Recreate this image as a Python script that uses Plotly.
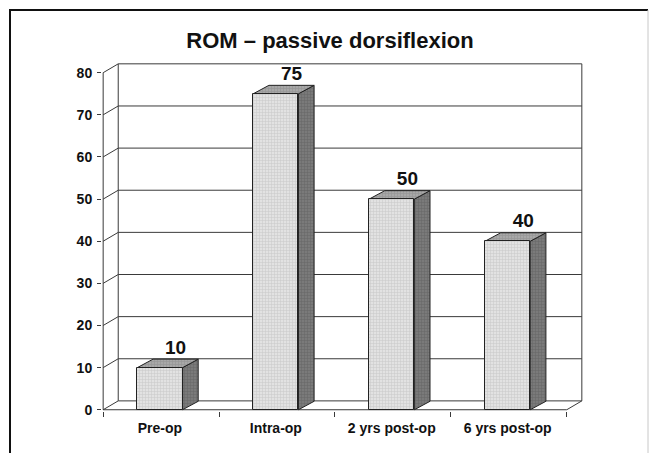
import plotly.graph_objects as go

# ---- data ----
categories = ["Pre-op", "Intra-op", "2 yrs post-op", "6 yrs post-op"]
values = [10, 75, 50, 40]
y_ticks = [0, 10, 20, 30, 40, 50, 60, 70, 80]
title_text = "ROM – passive dorsiflexion"

# ---- geometry (in axis units) ----
W = 653
H = 453
ML, MR, MT, MB = 102, 70, 63, 42
X_RANGE = [-0.01, 4.14]
Y_RANGE = [-0.3, 82.3]
WALL_DX, WALL_DY = 0.13, 2.1      # depth of chart walls
BAR_DX, BAR_DY = 0.135, 2.0       # depth of bars
BAR_OFF, BAR_HALF = 0.49, 0.195   # front-face centre offset and half width
YMAX = 80
NCAT = len(categories)

LINE = "#3a3a3a"
FONT = "Liberation Sans, Arial, sans-serif"

fig = go.Figure()

# walls and gridlines
gx, gy = [], []
for v in y_ticks:
    gx += [0, WALL_DX, NCAT + WALL_DX, None]
    gy += [v, v + WALL_DY, v + WALL_DY, None]
# left wall edges
gx += [0, 0, None, WALL_DX, WALL_DX, None]
gy += [0, YMAX, None, WALL_DY, YMAX + WALL_DY, None]
# back wall right edge
gx += [NCAT + WALL_DX, NCAT + WALL_DX, None]
gy += [WALL_DY, YMAX + WALL_DY, None]
# floor front + right edge
gx += [0, NCAT, NCAT + WALL_DX, None]
gy += [0, 0, WALL_DY, None]
fig.add_trace(go.Scatter(x=gx, y=gy, mode="lines",
                         line=dict(color=LINE, width=1),
                         hoverinfo="skip", showlegend=False))

# side faces and top faces of bars
sx, sy, tx, ty = [], [], [], []
for i, v in enumerate(values):
    c = i + BAR_OFF
    l, r = c - BAR_HALF, c + BAR_HALF
    sx += [r, r + BAR_DX, r + BAR_DX, r, r, None]
    sy += [0, BAR_DY, v + BAR_DY, v, 0, None]
    tx += [l, r, r + BAR_DX, l + BAR_DX, l, None]
    ty += [v, v, v + BAR_DY, v + BAR_DY, v, None]

fig.add_trace(go.Scatter(x=sx, y=sy, mode="lines", fill="toself",
                         fillcolor="#707070",
                         fillpattern=dict(shape="+", size=3, solidity=0.35,
                                          bgcolor="#7a7a7a", fgcolor="#555555"),
                         line=dict(color="#222222", width=1),
                         hoverinfo="skip", showlegend=False))
fig.add_trace(go.Scatter(x=tx, y=ty, mode="lines", fill="toself",
                         fillcolor="#a0a0a0",
                         fillpattern=dict(shape="+", size=3, solidity=0.35,
                                          bgcolor="#a8a8a8", fgcolor="#808080"),
                         line=dict(color="#222222", width=1),
                         hoverinfo="skip", showlegend=False))

# value labels
fig.add_trace(go.Scatter(
    x=[i + BAR_OFF + BAR_DX for i in range(NCAT)],
    y=[v + BAR_DY + 2.4 for v in values],
    text=[str(v) for v in values], mode="text",
    textposition="middle center",
    textfont=dict(family=FONT, size=19, color="#111111", weight="bold"),
    cliponaxis=False, hoverinfo="skip", showlegend=False))

# front faces (real bars)
fig.add_trace(go.Bar(
    x=[i + BAR_OFF for i in range(NCAT)], y=values, width=2 * BAR_HALF,
    xaxis="x2",
    marker=dict(color="#e0e0e0",
                line=dict(color="#222222", width=1),
                pattern=dict(shape="+", size=3, solidity=0.3,
                             bgcolor="#e2e2e2", fgcolor="#adadad")),
    hoverinfo="skip", showlegend=False))


def px_x(p):
    return (p - ML) / (W - ML - MR)


def px_y(p):
    return (H - MB - p) / (H - MT - MB)


shapes = [
    dict(type="line", xref="paper", yref="paper",
         x0=px_x(10), x1=px_x(10), y0=px_y(9), y1=px_y(460),
         line=dict(color="#111111", width=2)),
    dict(type="line", xref="paper", yref="paper",
         x0=px_x(9), x1=px_x(648), y0=px_y(10), y1=px_y(10),
         line=dict(color="#111111", width=2)),
    dict(type="line", xref="paper", yref="paper",
         x0=px_x(648), x1=px_x(648), y0=px_y(10), y1=px_y(460),
         line=dict(color="#c8c8c8", width=1)),
]

fig.update_layout(
    width=W, height=H,
    margin=dict(l=ML, r=MR, t=MT, b=MB, pad=0),
    paper_bgcolor="white", plot_bgcolor="white",
    title=dict(text=title_text, xref="container", yref="container",
               x=330 / W, y=1 - 40 / H, xanchor="center", yanchor="middle",
               font=dict(family=FONT, size=22, color="#111111", weight="bold")),
    xaxis=dict(range=X_RANGE, showgrid=False, zeroline=False, showline=False,
               tickmode="array", tickvals=list(range(NCAT + 1)),
               ticktext=[""] * (NCAT + 1),
               ticks="outside", ticklen=5, tickcolor=LINE, tickwidth=1),
    xaxis2=dict(range=X_RANGE, overlaying="x", anchor="y", side="bottom",
                showgrid=False, zeroline=False, showline=False,
                tickmode="array", tickvals=[i + BAR_OFF for i in range(NCAT)],
                ticktext=categories, ticks="", ticklabelstandoff=7,
                tickfont=dict(family=FONT, size=14, color="#111111", weight="bold")),
    yaxis=dict(range=Y_RANGE, showgrid=False, zeroline=False, showline=False,
               tickmode="array", tickvals=y_ticks,
               ticks="outside", ticklen=4, tickcolor=LINE, tickwidth=1,
               ticklabelstandoff=2,
               tickfont=dict(family=FONT, size=14, color="#111111", weight="bold")),
    shapes=shapes,
    bargap=0,
)

fig.write_html("out.html")
